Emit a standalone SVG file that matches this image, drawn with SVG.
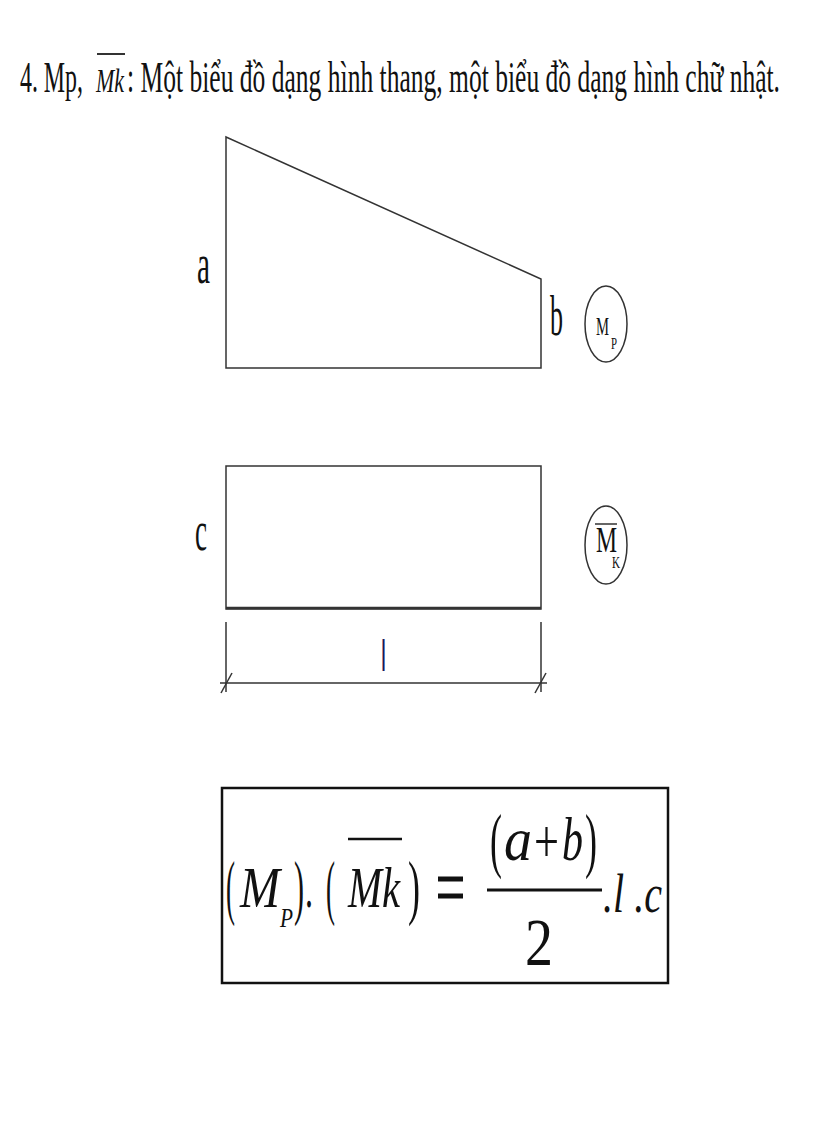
<svg xmlns="http://www.w3.org/2000/svg" width="816" height="1123" viewBox="0 0 816 1123">
<style>
.t{font-family:"Liberation Serif","Times New Roman",serif;fill:#111}
.i{font-style:italic}
.ln{stroke:#333;stroke-width:1.5;fill:none}
</style>
<rect width="816" height="1123" fill="#fff"/>
<g id="title">
<text class="t" x="20" y="92" font-size="44" textLength="63" lengthAdjust="spacingAndGlyphs">4. Mp,</text>
<text class="t i" x="96" y="92" font-size="34" textLength="28" lengthAdjust="spacingAndGlyphs">Mk</text>
<line x1="97" y1="54" x2="125" y2="54" stroke="#333" stroke-width="2"/>
<text class="t" x="127" y="92" font-size="44" textLength="653" lengthAdjust="spacingAndGlyphs">: Một biểu đồ dạng hình thang, một biểu đồ dạng hình chữ nhật.</text>
</g>
<g id="trapezoid">
<path class="ln" d="M226,137 L226,368 L541,368 L541,279 Z"/>
<text class="t" x="197" y="283" font-size="58" textLength="13" lengthAdjust="spacingAndGlyphs">a</text>
<text class="t" x="550" y="335" font-size="56" textLength="13" lengthAdjust="spacingAndGlyphs">b</text>
</g>
<g id="mp-label">
<ellipse class="ln" cx="606" cy="324" rx="21" ry="38" stroke-width="1.2"/>
<text class="t" x="596" y="335" font-size="26" textLength="13" lengthAdjust="spacingAndGlyphs">M</text>
<text class="t" x="611" y="349" font-size="17" textLength="6" lengthAdjust="spacingAndGlyphs">P</text>
</g>
<g id="rectangle">
<rect class="ln" x="226" y="466" width="315" height="143"/>
<line x1="226" y1="608" x2="541" y2="608" stroke="#333" stroke-width="2.5"/>
<text class="t" x="195" y="550" font-size="56" textLength="12" lengthAdjust="spacingAndGlyphs">c</text>
</g>
<g id="mk-label">
<ellipse class="ln" cx="606" cy="545" rx="21" ry="39" stroke-width="1.2"/>
<line x1="595" y1="524" x2="617" y2="524" stroke="#333" stroke-width="1.5"/>
<text class="t" x="596" y="552" font-size="36" textLength="21" lengthAdjust="spacingAndGlyphs">M</text>
<text class="t" x="612" y="568" font-size="17" textLength="8" lengthAdjust="spacingAndGlyphs">K</text>
</g>
<g id="dimension">
<line class="ln" x1="226" y1="622" x2="226" y2="692"/>
<line class="ln" x1="541" y1="622" x2="541" y2="692"/>
<line class="ln" x1="220" y1="683" x2="547" y2="683"/>
<line class="ln" x1="221" y1="693" x2="232" y2="673"/>
<line class="ln" x1="535" y1="693" x2="546" y2="673"/>
<text x="381" y="671" font-family="Liberation Sans, Arial, sans-serif" font-size="44" fill="#1a1a5a" textLength="5" lengthAdjust="spacingAndGlyphs">l</text>
</g>
<g id="formula">
<rect x="222" y="788" width="446" height="195" fill="none" stroke="#111" stroke-width="2.5"/>
<text class="t" x="226" y="911" font-size="72" textLength="9" lengthAdjust="spacingAndGlyphs">(</text>
<text class="t i" x="240" y="907" font-size="58" textLength="40" lengthAdjust="spacingAndGlyphs">M</text>
<text class="t i" x="280" y="927" font-size="28" textLength="13" lengthAdjust="spacingAndGlyphs">P</text>
<text class="t" x="294" y="911" font-size="72" textLength="10" lengthAdjust="spacingAndGlyphs">)</text>
<text class="t" x="305" y="907" font-size="58" textLength="8" lengthAdjust="spacingAndGlyphs">.</text>
<text class="t" x="326" y="911" font-size="72" textLength="9" lengthAdjust="spacingAndGlyphs">(</text>
<text class="t i" x="348" y="907" font-size="58" textLength="52" lengthAdjust="spacingAndGlyphs">Mk</text>
<line x1="348" y1="839" x2="402" y2="839" stroke="#111" stroke-width="2.5"/>
<text class="t" x="408" y="911" font-size="72" textLength="12" lengthAdjust="spacingAndGlyphs">)</text>
<line x1="438" y1="879" x2="463" y2="879" stroke="#111" stroke-width="5"/>
<line x1="438" y1="896" x2="463" y2="896" stroke="#111" stroke-width="5"/>
<line x1="487" y1="890" x2="602" y2="890" stroke="#111" stroke-width="3"/>
<text class="t" x="490" y="864" font-size="72" textLength="12" lengthAdjust="spacingAndGlyphs">(</text>
<text class="t i" x="504" y="860" font-size="62" textLength="28" lengthAdjust="spacingAndGlyphs">a</text>
<text class="t" x="534" y="862" font-size="62" textLength="25" lengthAdjust="spacingAndGlyphs">+</text>
<text class="t i" x="562" y="860" font-size="62" textLength="21" lengthAdjust="spacingAndGlyphs">b</text>
<text class="t" x="585" y="864" font-size="72" textLength="12" lengthAdjust="spacingAndGlyphs">)</text>
<text class="t" x="525" y="965" font-size="68" textLength="28" lengthAdjust="spacingAndGlyphs">2</text>
<text class="t i" x="603" y="912" font-size="54" textLength="59" lengthAdjust="spacingAndGlyphs">.l .c</text>
</g>
</svg>
